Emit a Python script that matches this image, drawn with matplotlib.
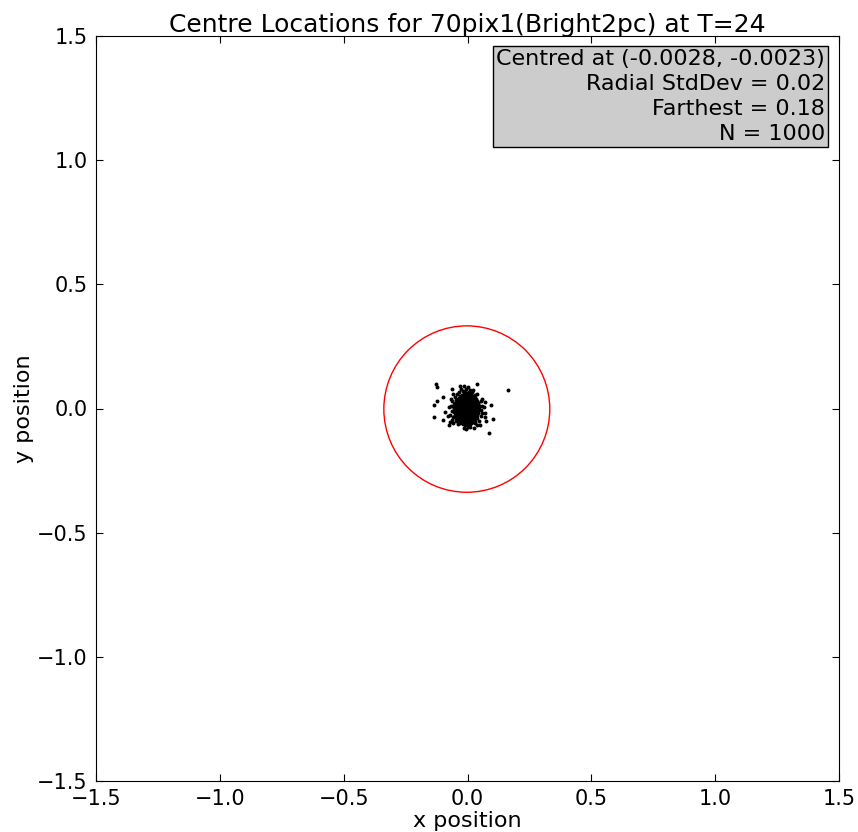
import numpy as np
import matplotlib
matplotlib.use("Agg")
import matplotlib.pyplot as plt
from matplotlib.patches import Circle

# centre estimates
centre = (-0.0028, -0.0023)
ring_radius = 0.335
stats_lines = ["Centred at (-0.0028, -0.0023)",
               "Radial StdDev = 0.02",
               "Farthest = 0.18",
               "N = 1000"]

# dense core of the cluster, row by row
core_rows = {
     0.064: [-0.012, -0.002, 0.006],
     0.056: [-0.022, -0.015, -0.006, 0.001, 0.010, 0.016],
     0.048: [-0.032, -0.028, -0.018, -0.011, -0.002, 0.006, 0.012, 0.022, 0.028],
     0.040: [-0.040, -0.034, -0.027, -0.017, -0.010, -0.001, 0.005, 0.015, 0.021, 0.030, 0.035],
     0.032: [-0.046, -0.040, -0.030, -0.024, -0.014, -0.008, 0.002, 0.008, 0.018, 0.024, 0.034, 0.039],
     0.024: [-0.050, -0.043, -0.036, -0.026, -0.020, -0.010, -0.004, 0.006, 0.012, 0.022, 0.028, 0.037, 0.042],
     0.016: [-0.053, -0.045, -0.036, -0.030, -0.020, -0.014, -0.004, 0.002, 0.012, 0.018, 0.028, 0.034, 0.041],
     0.008: [-0.055, -0.047, -0.040, -0.030, -0.024, -0.014, -0.008, 0.002, 0.008, 0.018, 0.024, 0.034, 0.040, 0.045],
     0.000: [-0.056, -0.048, -0.039, -0.033, -0.023, -0.017, -0.007, -0.001, 0.009, 0.015, 0.025, 0.031, 0.041, 0.046],
    -0.008: [-0.054, -0.046, -0.037, -0.031, -0.021, -0.015, -0.005, 0.001, 0.011, 0.017, 0.027, 0.033, 0.042],
    -0.016: [-0.055, -0.047, -0.040, -0.030, -0.024, -0.014, -0.008, 0.002, 0.008, 0.018, 0.024, 0.034, 0.040, 0.044],
    -0.024: [-0.052, -0.045, -0.036, -0.030, -0.020, -0.014, -0.004, 0.002, 0.012, 0.018, 0.028, 0.035, 0.040],
    -0.032: [-0.050, -0.043, -0.034, -0.028, -0.018, -0.012, -0.002, 0.004, 0.014, 0.020, 0.030, 0.036],
    -0.040: [-0.045, -0.039, -0.030, -0.024, -0.014, -0.008, 0.002, 0.008, 0.018, 0.024, 0.032, 0.037],
    -0.048: [-0.040, -0.033, -0.024, -0.018, -0.008, -0.002, 0.008, 0.014, 0.023, 0.030],
    -0.056: [-0.032, -0.026, -0.017, -0.011, -0.001, 0.005, 0.014, 0.021],
    -0.064: [-0.020, -0.011, -0.002, 0.005, 0.012],
}
core_y_jitter = [0.002, -0.003, 0.001, -0.002, 0.003, -0.001, 0.002, -0.002]

# ragged edge of the cluster
fringe_x = [-0.062, -0.064, -0.058, -0.066, 0.053, 0.056, 0.054, 0.058, -0.042, 0.032,
            -0.020, 0.010, 0.020, -0.038, 0.030, -0.015, 0.012, -0.070, 0.060, 0.058,
            -0.052, 0.045, -0.048, -0.074, 0.065, -0.028, 0.040, -0.062, 0.038, -0.005,
            0.025, -0.078, 0.070, -0.068, 0.072, -0.060, -0.034, -0.008, 0.004, 0.022,
            -0.058, -0.072]
fringe_y = [0.030, -0.010, -0.035, 0.012, 0.030, -0.005, -0.030, 0.012, 0.058, 0.055,
            0.072, 0.074, 0.066, -0.062, -0.060, -0.078, -0.074, -0.025, -0.020, 0.040,
            0.048, -0.050, -0.052, 0.005, 0.005, 0.078, 0.060, -0.045, -0.066, -0.082,
            -0.077, -0.030, -0.035, 0.040, 0.025, 0.060, 0.068, 0.080, -0.076, 0.076,
            -0.058, -0.055]

# isolated points away from the core
outlier_x = [-0.127, -0.122, 0.162, 0.040, -0.030, -0.013, 0.003, -0.100, -0.064, -0.135,
             -0.122, -0.135, 0.094, 0.104, 0.088, -0.091, -0.098, -0.073, 0.050, 0.071, 0.073]
outlier_y = [0.099, 0.088, 0.075, 0.100, 0.090, 0.090, 0.085, 0.045, 0.077, 0.014,
             0.031, -0.033, 0.014, -0.044, -0.097, -0.013, -0.046, -0.066, -0.066, -0.019, -0.050]

core_x, core_y = [], []
for i, (row_y, xs) in enumerate(core_rows.items()):
    for j, x in enumerate(xs):
        core_x.append(x)
        core_y.append(row_y + core_y_jitter[(i + j) % len(core_y_jitter)])

xs = np.array(core_x + fringe_x + outlier_x)
ys = np.array(core_y + fringe_y + outlier_y)

fig = plt.figure(figsize=(8.58, 8.32), dpi=100)
ax = fig.add_axes([96/858, 51/832, 743/858, 745/832])

ax.scatter(xs, ys, s=8, c="black", marker="o", linewidths=0)
ax.add_patch(Circle(centre, ring_radius, fill=False, edgecolor="red", linewidth=1))

ax.set_xlim(-1.5, 1.5)
ax.set_ylim(-1.5, 1.5)
ax.set_xticks(np.arange(-1.5, 1.51, 0.5))
ax.set_yticks(np.arange(-1.5, 1.51, 0.5))
ax.tick_params(direction="in", top=True, right=True, length=5, labelsize=15, pad=6)
ax.set_xlabel("x position", fontsize=16, labelpad=1)
ax.set_ylabel("y position", fontsize=16, labelpad=2)
ax.set_title("Centre Locations for 70pix1(Bright2pc) at T=24", fontsize=18, pad=3)

ax.text(0.981, 0.983, "\n".join(stats_lines), transform=ax.transAxes,
        ha="right", va="top", multialignment="right", fontsize=16, linespacing=1.32,
        bbox=dict(facecolor="0.8", edgecolor="black", pad=2))

fig.savefig("out.png", dpi=100)
